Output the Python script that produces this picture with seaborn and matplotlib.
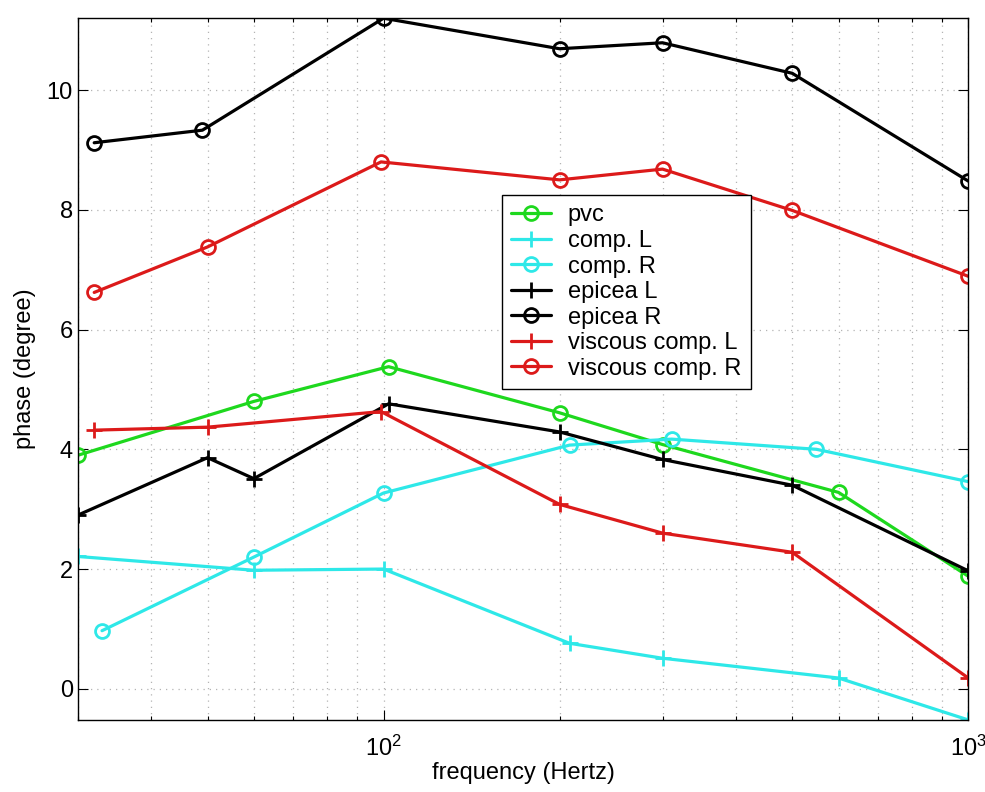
import matplotlib
matplotlib.use('Agg')
import matplotlib.pyplot as plt
import seaborn as sns
from matplotlib.ticker import FixedLocator, LogLocator, NullFormatter

sns.set_theme(style="white")
plt.rcParams['font.family'] = ['Liberation Sans', 'DejaVu Sans']
plt.rcParams['mathtext.default'] = 'regular'
plt.rcParams['font.size'] = 17
plt.rcParams['text.color'] = 'black'
plt.rcParams['axes.labelcolor'] = 'black'

# frequence (Hz) et phase (degree) de chaque serie
pvc_f = [30, 60, 102, 200, 300, 600, 1000]
pvc_y = [3.9, 4.8, 5.38, 4.61, 4.08, 3.28, 1.88]

compL_f = [30, 60, 100, 208, 300, 600, 1000]
compL_y = [2.21, 1.98, 2.0, 0.76, 0.51, 0.18, -0.52]

compR_f = [33, 60, 100, 208, 311, 550, 1000]
compR_y = [0.97, 2.2, 3.27, 4.07, 4.17, 4.0, 3.46]

epiceaL_f = [30, 50, 60, 102, 200, 300, 500, 1000]
epiceaL_y = [2.9, 3.86, 3.51, 4.76, 4.29, 3.83, 3.4, 1.97]

epiceaR_f = [32, 49, 100, 200, 300, 500, 1000]
epiceaR_y = [9.12, 9.33, 11.2, 10.69, 10.79, 10.28, 8.48]

viscL_f = [32, 50, 99, 200, 300, 500, 1000]
viscL_y = [4.32, 4.37, 4.63, 3.08, 2.6, 2.28, 0.18]

viscR_f = [32, 50, 99, 200, 300, 500, 1000]
viscR_y = [6.62, 7.38, 8.8, 8.5, 8.68, 7.99, 6.89]

labels = ['pvc', 'comp. L', 'comp. R', 'epicea L', 'epicea R',
          'viscous comp. L', 'viscous comp. R']

GREEN = '#1ed81e'
CYAN = '#2ee8e8'
BLACK = '#000000'
RED = '#dc1a1a'

series = [
    (pvc_f, pvc_y, GREEN, 'o'),
    (compL_f, compL_y, CYAN, '+'),
    (compR_f, compR_y, CYAN, 'o'),
    (epiceaL_f, epiceaL_y, BLACK, '+'),
    (epiceaR_f, epiceaR_y, BLACK, 'o'),
    (viscL_f, viscL_y, RED, '+'),
    (viscR_f, viscR_y, RED, 'o'),
]

fig = plt.figure(figsize=(9.85, 7.92), dpi=100)
ax = fig.add_axes([0.079, 0.091, 0.904, 0.886])

for (f, y, cor, mk), lab in zip(series, labels):
    sns.lineplot(x=f, y=y, ax=ax, color=cor, marker=mk, label=lab,
                 linewidth=2.3, markersize=10 if mk == 'o' else 11,
                 markerfacecolor='none', markeredgecolor=cor,
                 markeredgewidth=2.0, sort=False)

ax.set_xscale('log')
ax.set_xlim(30, 1000)
ax.set_ylim(-0.52, 11.2)
ax.set_yticks([0, 2, 4, 6, 8, 10])
ax.xaxis.set_major_locator(FixedLocator([100, 1000]))
ax.xaxis.set_minor_locator(LogLocator(base=10, subs=range(2, 10)))
ax.xaxis.set_minor_formatter(NullFormatter())

# grille pointillee style matlab
for qual, eixo in [('major', 'both'), ('minor', 'x')]:
    ax.grid(True, which=qual, axis=eixo, color='#b4b4b4', linewidth=0.9,
            linestyle=(0, (1, 4)))

ax.tick_params(which='both', direction='in', top=True, right=True,
               bottom=True, left=True, colors='black', labelsize=17)
ax.tick_params(which='major', length=7, width=0.8)
ax.tick_params(which='minor', length=3, width=0.8)
ax.tick_params(axis='x', which='major', pad=11)
for s in ax.spines.values():
    s.set_color('black')
    s.set_linewidth(1.0)

ax.set_xlabel('frequency (Hertz)', fontsize=17, labelpad=1, color='black')
ax.set_ylabel('phase (degree)', fontsize=17, labelpad=8, color='black')

leg = ax.legend(loc='upper left', bbox_to_anchor=(0.476, 0.748), numpoints=1,
                handlelength=1.7, labelspacing=0.15, borderpad=0.4,
                handletextpad=0.7, fancybox=False, framealpha=1, fontsize=17,
                borderaxespad=0)
leg.get_frame().set_edgecolor('black')
leg.get_frame().set_linewidth(1.0)
for t in leg.get_texts():
    t.set_color('black')

fig.savefig('out.png', dpi=100)
